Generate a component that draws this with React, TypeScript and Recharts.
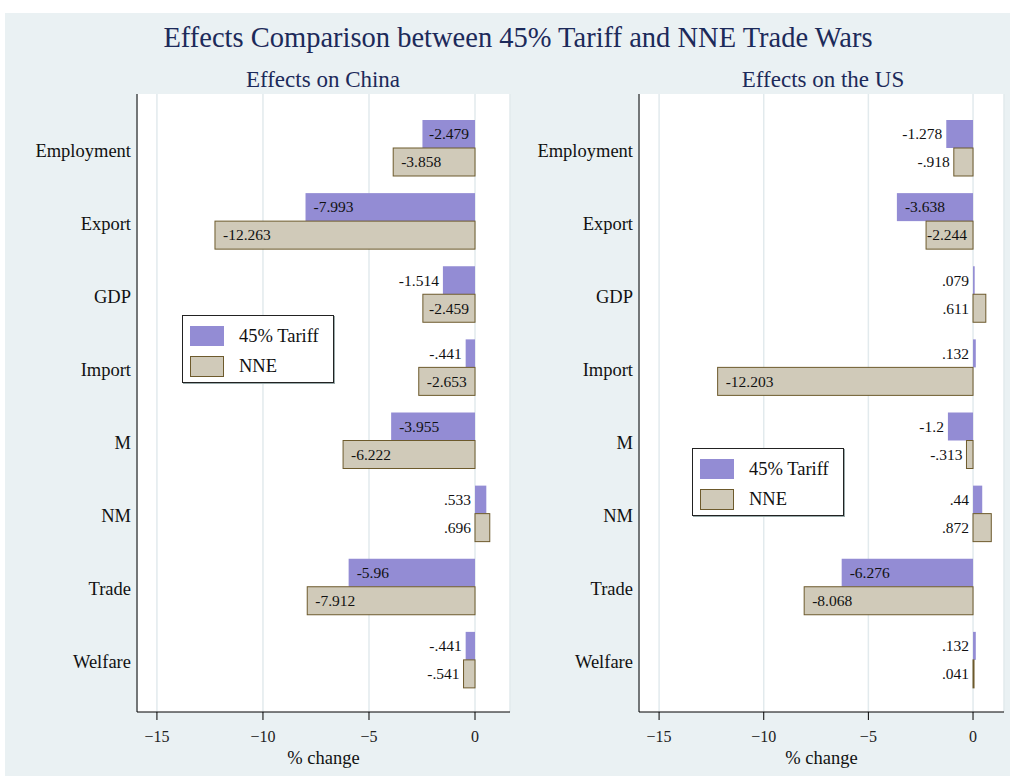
import React from "react";
import { BarChart, Bar, XAxis, YAxis, CartesianGrid } from "recharts";

const categories = ["Employment", "Export", "GDP", "Import", "M", "NM", "Trade", "Welfare"];
const chinaTariff = [-2.479, -7.993, -1.514, -0.441, -3.955, 0.533, -5.96, -0.441];
const chinaNNE = [-3.858, -12.263, -2.459, -2.653, -6.222, 0.696, -7.912, -0.541];
const usTariff = [-1.278, -3.638, 0.079, 0.132, -1.2, 0.44, -6.276, 0.132];
const usNNE = [-0.918, -2.244, 0.611, -12.203, -0.313, 0.872, -8.068, 0.041];
const xTicks = [-15, -10, -5, 0];
const seriesNames = ["45% Tariff", "NNE"];

const FONT = "'Liberation Serif', 'Times New Roman', Times, serif";
const NAVY = "#1c2a5a";
const BG = "#eaf1f3";
const PURPLE = "#938cd4";
const TAN = "#d0cab9";
const TAN_EDGE = "#6d5a2c";
const LABEL_FS = 15.5;

const chinaData = categories.map((c, i) => ({ cat: c, tariff: chinaTariff[i], nne: chinaNNE[i] }));
const usData = categories.map((c, i) => ({ cat: c, tariff: usTariff[i], nne: usNNE[i] }));

// Stata style number labels: .533, -.441
const fmt = (v: number) => String(v).replace(/^(-?)0\./, "$1.");

// rough Times advance widths (em)
const charW: Record<string, number> = { "-": 0.333, ".": 0.25 };
const textWidth = (s: string) =>
  s.split("").reduce((a, ch) => a + (charW[ch] ?? 0.5), 0) * LABEL_FS;

const makeShape = (key: "tariff" | "nne") => (props: any) => {
  const { x, y, width, height, payload } = props;
  const v: number = payload[key];
  const left = Math.min(x, x + width);
  const right = Math.max(x, x + width);
  const zero = v < 0 ? right : left;
  const len = right - left;
  const txt = fmt(v);
  const tw = textWidth(txt);
  let tx = left - 4;
  let anchor: "start" | "end" = "end";
  if (v < 0 && len >= tw + 6) {
    tx = Math.min(left + 8, zero - tw - 6);
    anchor = "start";
  }
  const fill = key === "tariff" ? PURPLE : TAN;
  return (
    <g>
      <rect
        x={left}
        y={y}
        width={Math.max(len, 1)}
        height={height}
        fill={fill}
        stroke={key === "nne" ? TAN_EDGE : "none"}
        strokeWidth={1}
      />
      <text
        x={tx}
        y={y + height / 2 + LABEL_FS * 0.34}
        textAnchor={anchor}
        fontSize={LABEL_FS}
        fontFamily={FONT}
        fill="#111"
      >
        {txt}
      </text>
    </g>
  );
};

const tickFmt = (v: number) => (v < 0 ? "\u2212" + Math.abs(v) : String(v));

const CatTick = (props: any) => {
  const { x, y, payload } = props;
  return (
    <text x={x} y={y + 9} textAnchor="end" fontSize={18.5} fontFamily={FONT} fill="#111">
      {payload.value}
    </text>
  );
};

function Panel({ data, domain, yWidth, width, right }: any) {
  return (
    <BarChart
      width={width}
      height={776}
      data={data}
      layout="vertical"
      barSize={28}
      barGap={0}
      margin={{ top: 94, right, bottom: 8, left: 0 }}
    >
      <CartesianGrid fill="#ffffff" horizontal={false} stroke="#e2eaed" strokeWidth={1.5} />
      <XAxis
        type="number"
        domain={domain}
        ticks={xTicks}
        allowDataOverflow
        height={56}
        tickSize={8}
        tickMargin={11}
        tickFormatter={tickFmt}
        axisLine={{ stroke: "#000" }}
        tickLine={{ stroke: "#000" }}
        tick={{ fontSize: 16, fill: "#222", fontFamily: FONT }}
        label={{
          value: "% change",
          position: "insideBottom",
          offset: 4,
          fontSize: 18.5,
          fill: "#111",
          fontFamily: FONT,
        }}
      />
      <YAxis
        type="category"
        dataKey="cat"
        width={yWidth}
        padding={{ top: 17, bottom: 16 }}
        tickLine={false}
        tickSize={0}
        tickMargin={6}
        axisLine={{ stroke: "#000" }}
        tick={<CatTick />}
      />
      <Bar dataKey="tariff" name={seriesNames[0]} shape={makeShape("tariff")} isAnimationActive={false} />
      <Bar dataKey="nne" name={seriesNames[1]} shape={makeShape("nne")} isAnimationActive={false} />
    </BarChart>
  );
}

function LegendBox({ left, top }: { left: number; top: number }) {
  const row = (i: number) => (
    <div style={{ display: "flex", alignItems: "center", height: 30 }}>
      <div
        style={{
          width: i === 0 ? 34 : 32,
          height: i === 0 ? 20 : 19,
          background: i === 0 ? PURPLE : TAN,
          border: i === 0 ? "none" : `1px solid ${TAN_EDGE}`,
          marginRight: 15,
        }}
      />
      <span style={{ fontSize: 18.5, fontFamily: FONT, color: "#111" }}>{seriesNames[i]}</span>
    </div>
  );
  return (
    <div
      style={{
        position: "absolute",
        left,
        top,
        width: 152,
        height: 68,
        background: "#fff",
        border: "1px solid #222",
        boxShadow: "1px 1px 0 #9aa",
        padding: "5px 0 0 7px",
        boxSizing: "border-box",
      }}
    >
      {row(0)}
      {row(1)}
    </div>
  );
}

export default function App() {
  return (
    <div style={{ position: "absolute", left: 0, top: 0, width: 1010, height: 776, background: "#fff", overflow: "hidden" }}>
      <div style={{ position: "absolute", left: 5, top: 13, width: 1005, height: 763, background: BG }} />
      <div style={{ position: "absolute", left: 0, top: 0 }}>
        <Panel data={chinaData} domain={[-15.94, 1.65]} yWidth={137} width={520} right={10} />
      </div>
      <div style={{ position: "absolute", left: 500, top: 0 }}>
        <Panel data={usData} domain={[-15.96, 1.48]} yWidth={139} width={510} right={6} />
      </div>
      <svg width={1010} height={776} style={{ position: "absolute", left: 0, top: 0, pointerEvents: "none" }}>
        <text x={518} y={47} textAnchor="middle" fontSize={28.5} fontFamily={FONT} fill={NAVY}>
          Effects Comparison between 45% Tariff and NNE Trade Wars
        </text>
        <text x={323} y={87} textAnchor="middle" fontSize={23} fontFamily={FONT} fill={NAVY}>
          Effects on China
        </text>
        <text x={823} y={87} textAnchor="middle" fontSize={23} fontFamily={FONT} fill={NAVY}>
          Effects on the US
        </text>
      </svg>
      <LegendBox left={182} top={315} />
      <LegendBox left={692} top={448} />
    </div>
  );
}
